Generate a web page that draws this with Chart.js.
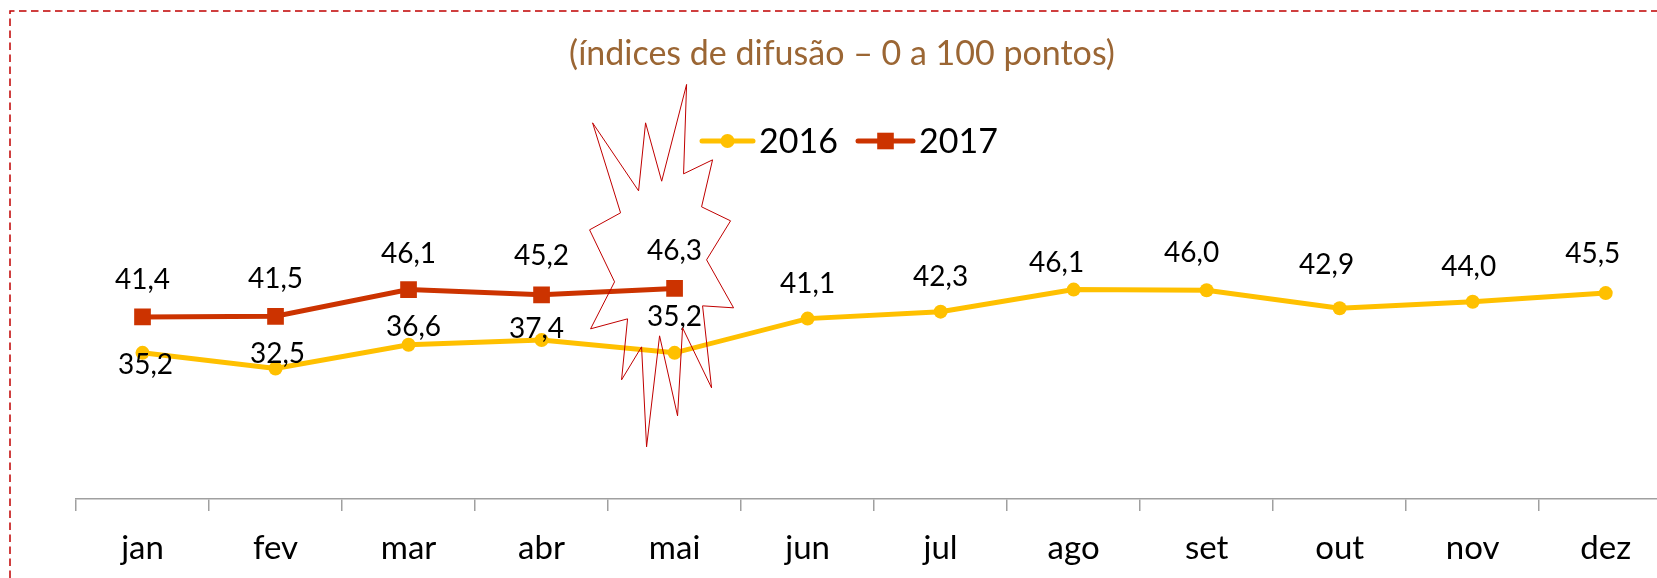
<!DOCTYPE html>
<html lang="pt-BR">
<head>
<meta charset="utf-8">
<title>Índices de difusão</title>
<script src="https://cdn.jsdelivr.net/npm/chart.js@4.4.1/dist/chart.umd.min.js"></script>
<style>
  html, body { margin: 0; padding: 0; background: #fff; overflow: hidden; }
  #wrap { position: relative; width: 1684px; height: 578px; }
</style>
</head>
<body>
<div id="wrap"><canvas id="difusao" width="1684" height="578"></canvas></div>
<script>
// Data
const months = ['jan', 'fev', 'mar', 'abr', 'mai', 'jun', 'jul', 'ago', 'set', 'out', 'nov', 'dez'];
const values2016 = [35.2, 32.5, 36.6, 37.4, 35.2, 41.1, 42.3, 46.1, 46.0, 42.9, 44.0, 45.5];
const values2017 = [41.4, 41.5, 46.1, 45.2, 46.3, null, null, null, null, null, null, null];
const seriesNames = ['2016', '2017'];
const titleText = '(índices de difusão – 0 a 100 pontos)';
const yMin = 10;
const yMax = 60;

const FONT = 'Lato, "Open Sans", "DejaVu Sans", sans-serif';
const COLOR_2016 = '#FFC000';
const COLOR_2017 = '#CC3300';
const AXIS_GRAY = '#a0a0a0';

// Label nudges (pixels) as placed by hand in the original
const labelShift2016 = [[3, 12], [2, -15], [5, -18], [-5, -11], [0, -36], [0, -35], [0, -35], [-17, -27], [-15, -37], [-13, -43], [-4, -35], [-13, -39]];
const labelShift2017 = [[0, -37], [0, -37], [0, -36], [0, -39], [0, -37]];

// "explosion" callout around May, relative to the May point of 2016
const burstOutline = [
  [12, -268], [9, -179], [38, -193], [27, -146], [56, -132], [32, -93], [59, -45], [28, -47],
  [37, 35], [8, -25], [3, 63], [-15, -17], [-28, 94], [-33, -6], [-53, 27], [-47, -34],
  [-84, -24], [-60, -71], [-85, -123], [-54, -140], [-82, -230], [-36, -162], [-29, -230], [-13, -172]
];

const fmt = v => v.toFixed(1).replace('.', ',');

// Frame, title, legend, value labels and the callout
const decorations = {
  id: 'decorations',
  beforeDraw(chart) {
    const ctx = chart.ctx;
    ctx.save();
    ctx.fillStyle = '#fff';
    ctx.fillRect(0, 0, chart.width, chart.height);
    ctx.strokeStyle = '#C00000';
    ctx.lineWidth = 1.5;
    ctx.setLineDash([7.5, 4.5]);
    ctx.beginPath();
    ctx.moveTo(10, chart.height);
    ctx.lineTo(10, 11);
    ctx.lineTo(chart.width, 11);
    ctx.stroke();
    ctx.restore();
  },
  afterDatasetsDraw(chart) {
    const ctx = chart.ctx;
    ctx.save();

    // value labels
    ctx.font = '28px ' + FONT;
    ctx.fillStyle = '#000';
    ctx.textAlign = 'center';
    ctx.textBaseline = 'middle';
    const shifts = [labelShift2016, labelShift2017];
    chart.data.datasets.forEach((ds, di) => {
      const meta = chart.getDatasetMeta(di);
      meta.data.forEach((pt, i) => {
        const v = ds.data[i];
        if (v === null || v === undefined) return;
        const s = shifts[di][i] || [0, -36];
        ctx.fillText(fmt(v), pt.x + s[0], pt.y + s[1]);
      });
    });

    // title
    ctx.font = '34px ' + FONT;
    ctx.fillStyle = '#9b6634';
    ctx.fillText(titleText, 842, 54);

    // legend
    const legendItems = [
      { x: 702, w: 51, color: COLOR_2016, marker: 'circle', text: seriesNames[0] },
      { x: 858, w: 55, color: COLOR_2017, marker: 'square', text: seriesNames[1] }
    ];
    const ly = 141;
    legendItems.forEach(item => {
      ctx.strokeStyle = item.color;
      ctx.lineWidth = 5;
      ctx.lineCap = 'round';
      ctx.beginPath();
      ctx.moveTo(item.x, ly);
      ctx.lineTo(item.x + item.w, ly);
      ctx.stroke();
      ctx.fillStyle = item.color;
      const cx = item.x + item.w / 2;
      if (item.marker === 'circle') {
        ctx.beginPath();
        ctx.arc(cx, ly, 7, 0, Math.PI * 2);
        ctx.fill();
      } else {
        ctx.fillRect(cx - 8.3, ly - 8.3, 16.6, 16.6);
      }
      ctx.font = '34px ' + FONT;
      ctx.fillStyle = '#000';
      ctx.textAlign = 'left';
      ctx.fillText(item.text, item.x + item.w + 6, ly + 1);
    });

    // callout around May
    const anchor = chart.getDatasetMeta(0).data[4];
    ctx.strokeStyle = '#C00000';
    ctx.lineWidth = 1;
    ctx.lineJoin = 'miter';
    ctx.beginPath();
    burstOutline.forEach(([dx, dy], i) => {
      const x = anchor.x + dx, y = anchor.y + dy;
      if (i === 0) ctx.moveTo(x, y); else ctx.lineTo(x, y);
    });
    ctx.closePath();
    ctx.stroke();

    ctx.restore();
  }
};

new Chart(document.getElementById('difusao'), {
  type: 'line',
  data: {
    labels: months,
    datasets: [
      {
        label: seriesNames[0],
        data: values2016,
        borderColor: COLOR_2016,
        backgroundColor: COLOR_2016,
        borderWidth: 5,
        tension: 0,
        pointStyle: 'circle',
        pointRadius: 7,
        pointBorderWidth: 0,
        pointBackgroundColor: COLOR_2016
      },
      {
        label: seriesNames[1],
        data: values2017,
        borderColor: COLOR_2017,
        backgroundColor: COLOR_2017,
        borderWidth: 5,
        tension: 0,
        pointStyle: 'rect',
        pointRadius: 11.8,
        pointBorderWidth: 0,
        pointBackgroundColor: COLOR_2017,
        spanGaps: false
      }
    ]
  },
  options: {
    responsive: false,
    animation: false,
    events: [],
    layout: { padding: { top: 209, left: 76, right: 10, bottom: 0 } },
    plugins: {
      legend: { display: false },
      title: { display: false },
      tooltip: { enabled: false }
    },
    scales: {
      x: {
        offset: true,
        border: { display: true, color: AXIS_GRAY, width: 1.5 },
        grid: {
          offset: true,
          drawOnChartArea: false,
          drawTicks: true,
          tickLength: 12,
          color: AXIS_GRAY,
          lineWidth: 1.5
        },
        ticks: {
          color: '#000',
          font: { family: FONT, size: 33 },
          padding: 18,
          maxRotation: 0,
          autoSkip: false
        },
        afterFit(scale) { scale.height = 79; }
      },
      y: {
        display: false,
        min: yMin,
        max: yMax
      }
    }
  },
  plugins: [decorations]
});
</script>
</body>
</html>
